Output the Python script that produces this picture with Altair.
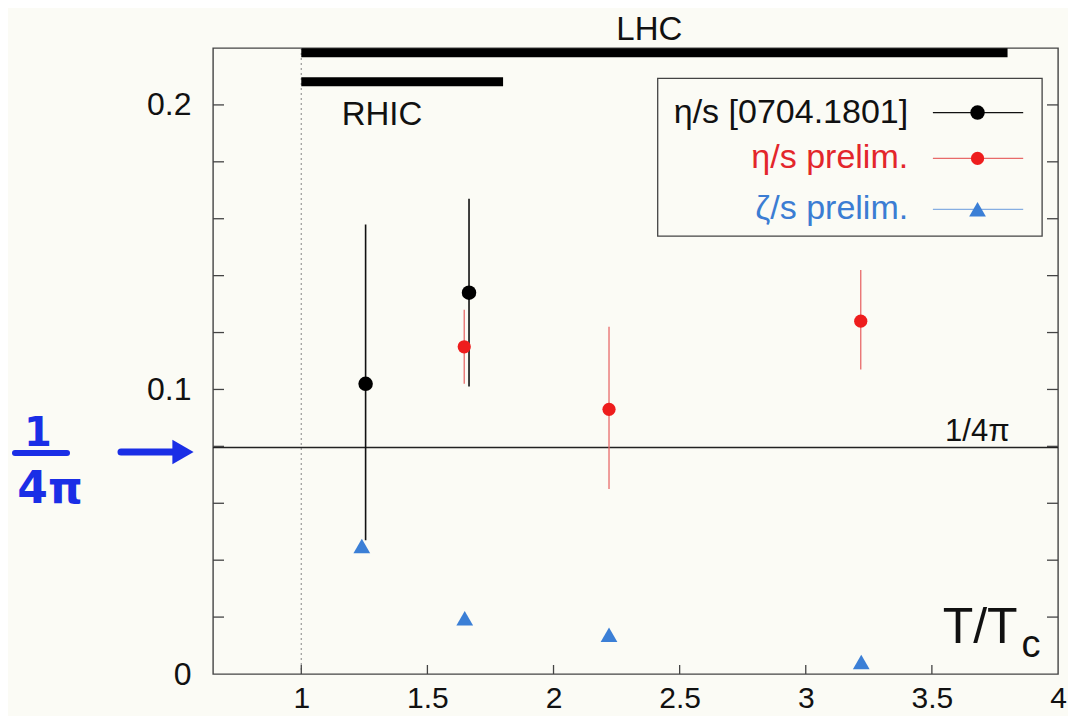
import altair as alt
import pandas as pd

# ---------------- data ----------------
black_x = [1.255, 1.665]
black_y = [0.102, 0.134]
black_lo = [0.047, 0.101]
black_hi = [0.158, 0.167]

red_x = [1.646, 2.22, 3.218]
red_y = [0.115, 0.093, 0.124]
red_lo = [0.102, 0.065, 0.107]
red_hi = [0.128, 0.122, 0.142]

blue_x = [1.24, 1.648, 2.22, 3.22]
blue_y = [0.045, 0.0196, 0.0138, 0.0042]

x_tick_labels = [1, 1.5, 2, 2.5, 3, 3.5, 4]
x_inner_ticks = [1, 1.5, 2, 2.5, 3, 3.5]
y_tick_labels = [0, 0.1, 0.2]
y_inner_ticks = [0.02, 0.04, 0.06, 0.08, 0.1, 0.12, 0.14, 0.16, 0.18, 0.2]

one_over_4pi = 0.0796

range_names = ["LHC", "RHIC"]
range_start = [1.0, 1.0]
range_end = [3.8, 1.8]
range_level = [0.2183, 0.2081]

legend_labels = ["η/s [0704.1801]", "η/s prelim.", "ζ/s prelim."]

# ---------------- styling / layout ----------------
W, H = 845, 626
BG = "#fbfbf5"
FONT = "Liberation Sans"
BLACK = "#000000"
RED = "#ee1d1d"
RED_BAR = "#e86a6a"
BLUE = "#3b7fd6"
BLUE_LINE = "#86aee2"
FRAME = "#444444"
HAND = "#1a2ee6"

xs = alt.Scale(domain=[0.65, 4.0], nice=False, zero=False)
ys = alt.Scale(domain=[0.0, 0.22], nice=False, zero=False)

dummy = pd.DataFrame({"d": [0]})

black_df = pd.DataFrame({"x": black_x, "y": black_y, "lo": black_lo, "hi": black_hi})
red_df = pd.DataFrame({"x": red_x, "y": red_y, "lo": red_lo, "hi": red_hi})
blue_df = pd.DataFrame({"x": blue_x, "y": blue_y})
range_df = pd.DataFrame({"name": range_names, "start": range_start,
                         "end": range_end, "level": range_level})
xt_df = pd.DataFrame({"v": x_inner_ticks})
yt_df = pd.DataFrame({"v": y_inner_ticks})

x_axis = alt.Axis(values=x_tick_labels, format="~g", title=None, grid=False,
                  domain=False, ticks=False, tickSize=0, labelFontSize=30,
                  labelFont=FONT, labelColor="#111", labelPadding=9,
                  labelFlush=False, labelOverlap=False)
y_axis = alt.Axis(values=y_tick_labels, format="~g", title=None, grid=False,
                  domain=False, ticks=False, tickSize=0, labelFontSize=32,
                  labelFont=FONT, labelColor="#111", labelPadding=22,
                  labelOverlap=False)

# base axes layer (invisible points carry the axes)
base = alt.Chart(blue_df).mark_point(opacity=0).encode(
    x=alt.X("x:Q", scale=xs, axis=x_axis),
    y=alt.Y("y:Q", scale=ys, axis=y_axis),
)

# inner ticks
xticks = alt.Chart(xt_df).mark_rule(color=FRAME, strokeWidth=1.3).encode(
    x=alt.X("v:Q", scale=xs), y=alt.value(H), y2=alt.value(H - 9))
yticks_l = alt.Chart(yt_df).mark_rule(color=FRAME, strokeWidth=1.3).encode(
    y=alt.Y("v:Q", scale=ys), x=alt.value(0), x2=alt.value(11))
yticks_r = alt.Chart(yt_df).mark_rule(color=FRAME, strokeWidth=1.3).encode(
    y=alt.Y("v:Q", scale=ys), x=alt.value(W), x2=alt.value(W - 11))

# dotted T = Tc line
tc_line = alt.Chart(dummy).mark_rule(color="#9a9a9a", strokeWidth=1.2,
                                     strokeDash=[2, 3]).encode(
    x=alt.datum(1.0, scale=xs), y=alt.value(0), y2=alt.value(H))

# 1/4pi line
kss = alt.Chart(dummy).mark_rule(color="#222", strokeWidth=1.6).encode(
    y=alt.datum(one_over_4pi, scale=ys), x=alt.value(0), x2=alt.value(W))

# RHIC / LHC bars
bars = alt.Chart(range_df).mark_rule(color=BLACK, strokeWidth=9, strokeCap="butt").encode(
    x=alt.X("start:Q", scale=xs), x2="end:Q", y=alt.Y("level:Q", scale=ys))

# error bars
black_err = alt.Chart(black_df).mark_rule(color="#111", strokeWidth=1.6).encode(
    x=alt.X("x:Q", scale=xs), y=alt.Y("lo:Q", scale=ys), y2="hi:Q")
red_err = alt.Chart(red_df).mark_rule(color=RED_BAR, strokeWidth=1.3).encode(
    x=alt.X("x:Q", scale=xs), y=alt.Y("lo:Q", scale=ys), y2="hi:Q")

black_pts = alt.Chart(black_df).mark_point(shape="circle", filled=True, size=210,
                                           color=BLACK, opacity=1).encode(
    x=alt.X("x:Q", scale=xs), y=alt.Y("y:Q", scale=ys))
red_pts = alt.Chart(red_df).mark_point(shape="circle", filled=True, size=175,
                                       color=RED, opacity=1).encode(
    x=alt.X("x:Q", scale=xs), y=alt.Y("y:Q", scale=ys))
blue_pts = alt.Chart(blue_df).mark_point(shape="triangle-up", filled=True, size=280,
                                         color=BLUE, opacity=1).encode(
    x=alt.X("x:Q", scale=xs), y=alt.Y("y:Q", scale=ys))


def text_layer(txt, x, y, size, color="#111", align="center", baseline="middle", **kw):
    return alt.Chart(dummy).mark_text(text=txt, fontSize=size, font=kw.pop("font", FONT),
                                      color=color, align=align, baseline=baseline, **kw).encode(
        x=alt.datum(x, scale=xs), y=alt.datum(y, scale=ys))


labels = [
    text_layer("LHC", 2.38, 0.2264, 33),
    text_layer("RHIC", 1.32, 0.1966, 33),
    text_layer("1/4π", 3.68, 0.0852, 31),
    text_layer("T/T", 3.84, 0.0109, 50, align="right", baseline="alphabetic"),
    text_layer("c", 3.855, 0.0060, 38, align="left", baseline="alphabetic"),
]

# legend box
leg_box = alt.Chart(dummy).mark_rect(fill=BG, stroke=FRAME, strokeWidth=1.3).encode(
    x=alt.datum(2.413, scale=xs), x2=alt.datum(3.937),
    y=alt.datum(0.2093, scale=ys), y2=alt.datum(0.1539))

leg_rows = [0.1973, 0.1812, 0.1633]
leg_text_colors = ["#111111", "#e3262b", "#3b7dd3"]
leg_line_colors = ["#111111", RED_BAR, BLUE_LINE]
leg_marks = [("circle", BLACK, 210), ("circle", RED, 175), ("triangle-up", BLUE, 280)]
legend_layers = [leg_box]
for lab, ly, tc, lc, (shp, mc, msz) in zip(legend_labels, leg_rows, leg_text_colors,
                                           leg_line_colors, leg_marks):
    legend_layers.append(text_layer(lab, 3.406, ly, 34, color=tc, align="right"))
    legend_layers.append(alt.Chart(dummy).mark_rule(color=lc, strokeWidth=1.4).encode(
        x=alt.datum(3.504, scale=xs), x2=alt.datum(3.862),
        y=alt.datum(ly, scale=ys)))
    legend_layers.append(alt.Chart(dummy).mark_point(shape=shp, filled=True, size=msz,
                                                     color=mc, opacity=1).encode(
        x=alt.datum(3.681, scale=xs), y=alt.datum(ly, scale=ys)))

# hand-written annotation "1/4π →" on the left
hand = [
    alt.Chart(dummy).mark_text(text="1", fontSize=40, font="DejaVu Sans", fontWeight="bold",
                               color=HAND, align="center", baseline="middle").encode(
        x=alt.value(-175), y=alt.value(386)),
    alt.Chart(dummy).mark_rule(color=HAND, strokeWidth=6, strokeCap="round").encode(
        x=alt.value(-198), x2=alt.value(-146), y=alt.value(405)),
    alt.Chart(dummy).mark_text(text="4π", fontSize=44, font="DejaVu Sans", fontWeight="bold",
                               color=HAND, align="center", baseline="middle").encode(
        x=alt.value(-163), y=alt.value(442)),
    alt.Chart(dummy).mark_rule(color=HAND, strokeWidth=7, strokeCap="round").encode(
        x=alt.value(-92), x2=alt.value(-36), y=alt.value(404)),
    alt.Chart(dummy).mark_point(shape="triangle-right", filled=True, size=600,
                                color=HAND, opacity=1).encode(
        x=alt.value(-30), y=alt.value(404)),
]

chart = alt.layer(
    base, tc_line, kss, bars, xticks, yticks_l, yticks_r,
    black_err, red_err, black_pts, red_pts, blue_pts,
    *labels, *legend_layers, *hand,
).properties(
    width=W, height=H,
    autosize=alt.AutoSizeParams(type="none"),
    padding={"left": 205, "top": 40, "right": 10, "bottom": 42},
    background=BG,
).configure_view(
    stroke=FRAME, strokeWidth=1.4, fill=BG,
)

chart.save("out.html", embed_options={"renderer": "svg", "actions": False})
